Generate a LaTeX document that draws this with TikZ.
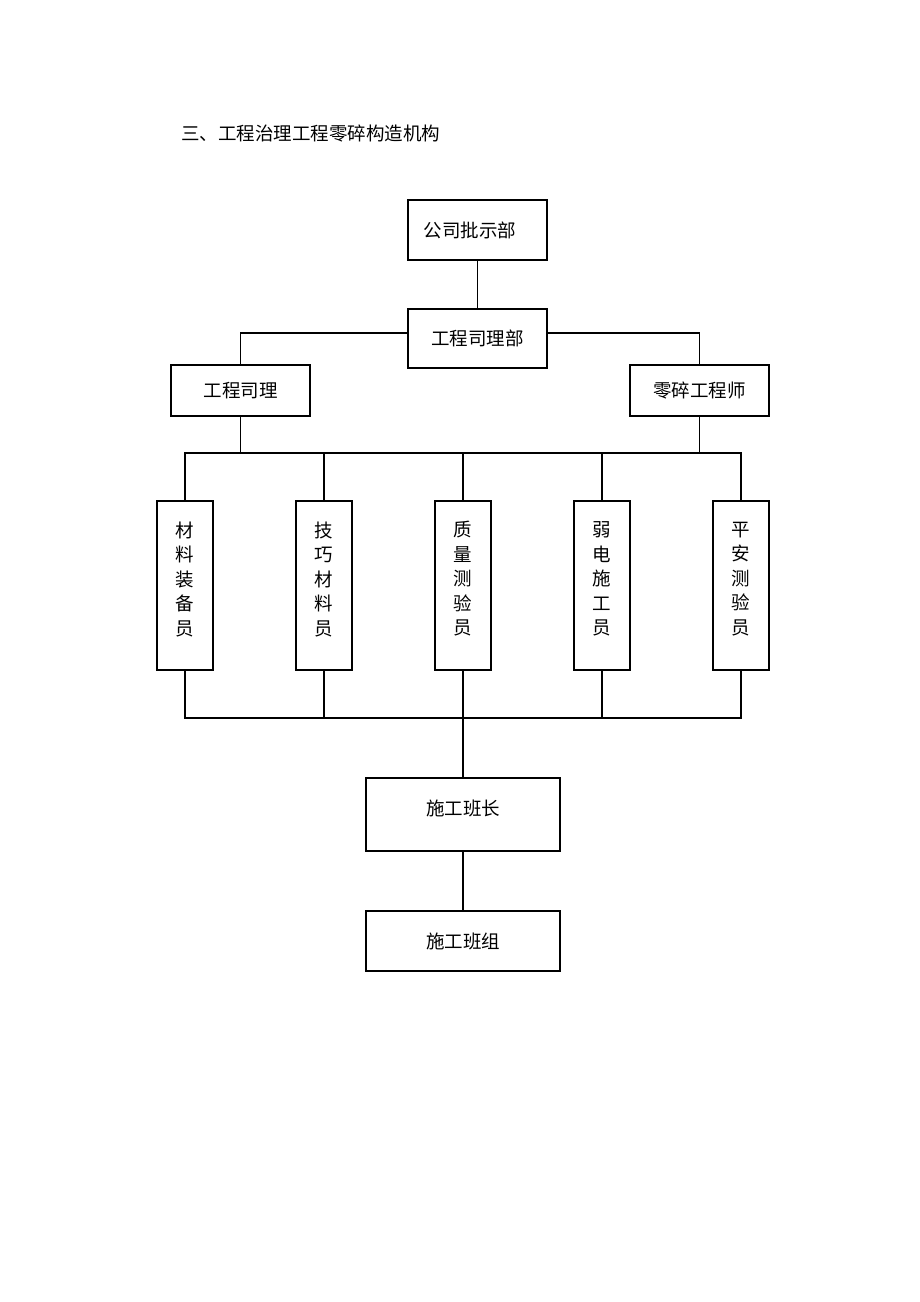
\documentclass[tikz,border=0pt]{standalone}
\usepackage{fontspec}
\setmainfont{Noto Sans CJK SC}
\begin{document}
\begin{tikzpicture}[x=1pt,y=-1pt,
  box/.style={draw,line width=1.2pt,rectangle,inner sep=0pt,font=\fontsize{18.5}{24.5}\selectfont},
  vbox/.style={box,minimum width=56pt,minimum height=169pt,align=center},
  conn/.style={line width=1.2pt},
  lbl/.style={inner sep=0pt,font=\fontsize{18.5}{24.5}\selectfont,align=center}]
\useasboundingbox[fill=white] (0,0) rectangle (920,1302);

\node[lbl,anchor=west] (title) at (181,134) {三、工程治理工程零碎构造机构};

\node[box,minimum width=139pt,minimum height=60pt] (top) at (477.5,230) {};
\node[lbl] (topt) at (470,230) {公司批示部};
\node[box,minimum width=139pt,minimum height=59pt] (mgr) at (477.5,338.5) {工程司理部};
\node[box,minimum width=139pt,minimum height=51pt] (left) at (240.5,390.5) {工程司理};
\node[box,minimum width=139pt,minimum height=51pt] (right) at (699.5,390.5) {零碎工程师};

\node[vbox] (v1) at (185,585.5) {};
\node[vbox] (v2) at (324,585.5) {};
\node[vbox] (v3) at (463,585.5) {};
\node[vbox] (v4) at (602,585.5) {};
\node[vbox] (v5) at (741,585.5) {};
\node[lbl] (v1t) at (185,579) {材\\料\\装\\备\\员};
\node[lbl] (v2t) at (324,579) {技\\巧\\材\\料\\员};
\node[lbl] (v3t) at (463,579) {质\\量\\测\\验\\员};
\node[lbl] (v4t) at (602,579) {弱\\电\\施\\工\\员};
\node[lbl] (v5t) at (741,579) {平\\安\\测\\验\\员};

\node[box,minimum width=194pt,minimum height=73pt] (lead) at (463,814.5) {};
\node[lbl] (leadt) at (463,808) {施工班长};
\node[box,minimum width=194pt,minimum height=60pt] (team) at (463,941) {施工班组};

\coordinate (bt) at (0,453);
\coordinate (bb) at (0,718);

\draw[conn] (top.south) -- (mgr.north);
\draw[conn] ([yshift=5.5pt]mgr.west) -| (left.north);
\draw[conn] ([yshift=5.5pt]mgr.east) -| (right.north);
\draw[conn] (left.south) -- (left.south |- bt);
\draw[conn] (right.south) -- (right.south |- bt);
\draw[conn] (v1.north) -- (v1.north |- bt) -- (v5.north |- bt) -- (v5.north);
\draw[conn] (v2.north) -- (v2.north |- bt);
\draw[conn] (v3.north) -- (v3.north |- bt);
\draw[conn] (v4.north) -- (v4.north |- bt);
\draw[conn] (v1.south) -- (v1.south |- bb) -- (v5.south |- bb) -- (v5.south);
\draw[conn] (v2.south) -- (v2.south |- bb);
\draw[conn] (v4.south) -- (v4.south |- bb);
\draw[conn] (v3.south) -- (lead.north);
\draw[conn] (lead.south) -- (team.north);
\end{tikzpicture}
\end{document}
